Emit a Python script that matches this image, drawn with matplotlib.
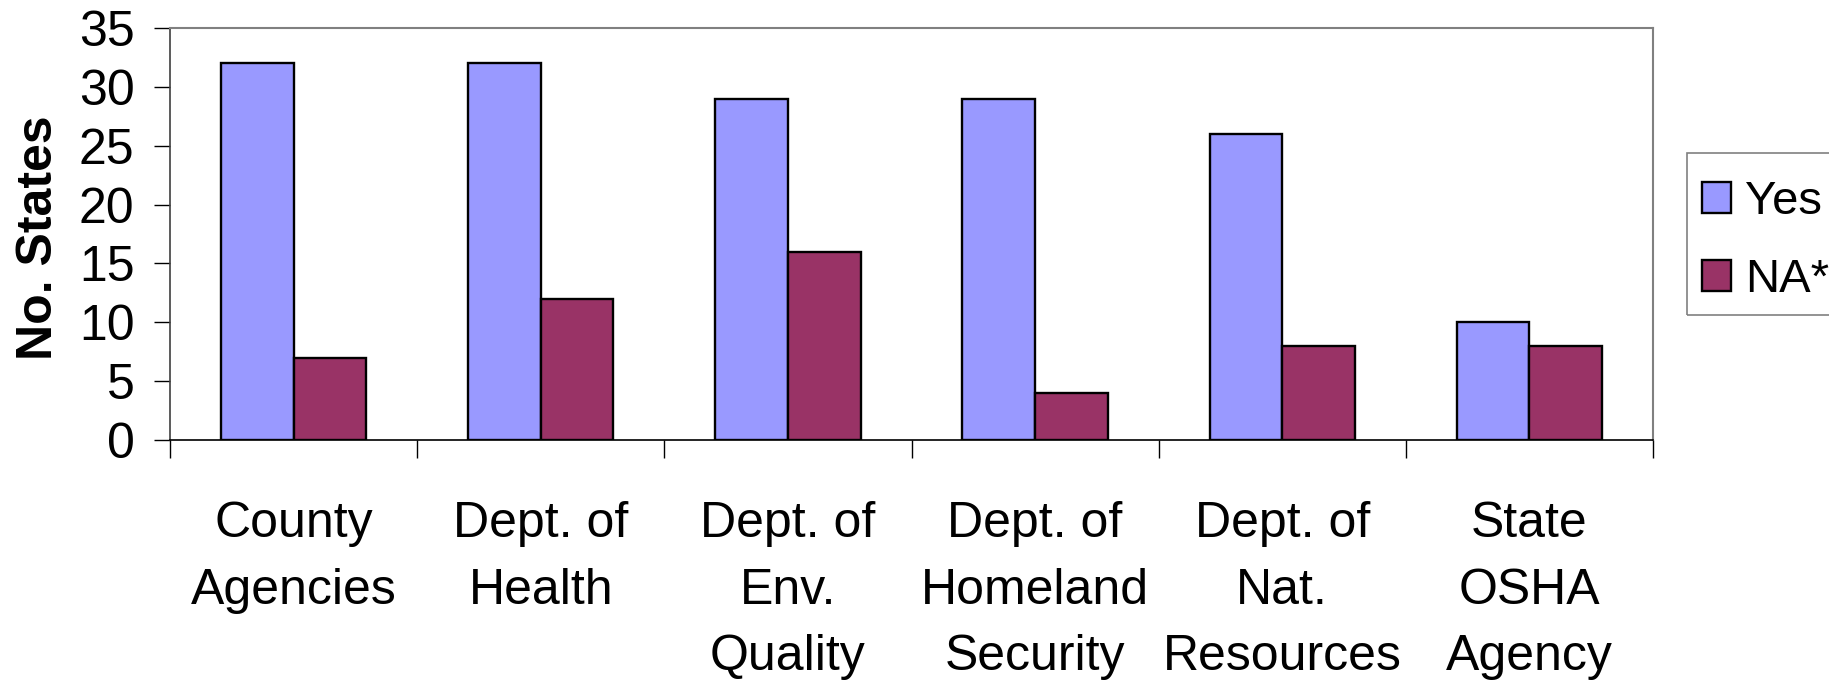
import matplotlib
matplotlib.use("Agg")
import matplotlib.pyplot as plt
from matplotlib.patches import Rectangle
import numpy as np

categories = ["County\nAgencies", "Dept. of\nHealth", "Dept. of\nEnv.\nQuality",
              "Dept. of\nHomeland\nSecurity", "Dept. of\nNat.\nResources", "State\nOSHA\nAgency"]
yes_vals = [32, 32, 29, 29, 26, 10]
na_vals = [7, 12, 16, 4, 8, 8]
series_names = ["Yes", "NA*"]
yticks = [0, 5, 10, 15, 20, 25, 30, 35]

plt.rcParams['font.family'] = ['Liberation Sans', 'DejaVu Sans']

W, H = 1829, 685
fig = plt.figure(figsize=(W/100, H/100), dpi=100)
ax = fig.add_axes([170/W, 1-440/H, 1483/W, 412/H])

x = np.arange(len(categories))
w = 0.294
ax.bar(x - w/2, yes_vals, w, color="#9999FF", edgecolor="black", linewidth=1.7, label=series_names[0])
ax.bar(x + w/2, na_vals, w, color="#993366", edgecolor="black", linewidth=1.7, label=series_names[1])

ax.set_xlim(-0.5, len(categories) - 0.5)
ax.set_ylim(0, 35)
ax.set_yticks(yticks)
ax.set_yticklabels([str(t) for t in yticks], fontsize=36)
ax.set_xticks(x)
ax.set_xticklabels(categories, fontsize=36, linespacing=1.57, va='top')
ax.set_xticks(np.arange(len(categories) + 1) - 0.5, minor=True)
ax.tick_params(axis='x', which='major', length=0, pad=44)
ax.tick_params(axis='x', which='minor', length=13, width=1, direction='out')
ax.tick_params(axis='y', which='major', length=11.5, width=1, direction='out', pad=14)

for s in ['top', 'right']:
    ax.spines[s].set_color('#808080')
    ax.spines[s].set_linewidth(1.5)
ax.spines['left'].set_color('#404040')
ax.spines['left'].set_linewidth(1.2)
ax.spines['bottom'].set_color('black')
ax.spines['bottom'].set_linewidth(1.2)

ax.set_ylabel("No. States", fontsize=36, fontweight='bold', va='center')
ax.yaxis.set_label_coords(-0.0885, 0.49)

# legend frame drawn separately
fig.patches.append(Rectangle((1687/W, 1-315/H), 200/W, 162/H, transform=fig.transFigure,
                             fill=False, edgecolor='#808080', linewidth=1.2))
leg = fig.legend(loc='upper left', bbox_to_anchor=(1702/W, 1-180/H),
                 bbox_transform=fig.transFigure, fontsize=34, frameon=False,
                 handlelength=0.62, handleheight=0.62,
                 handletextpad=0.3, labelspacing=0.72, borderpad=0, borderaxespad=0)

fig.savefig("out.png", dpi=100)
